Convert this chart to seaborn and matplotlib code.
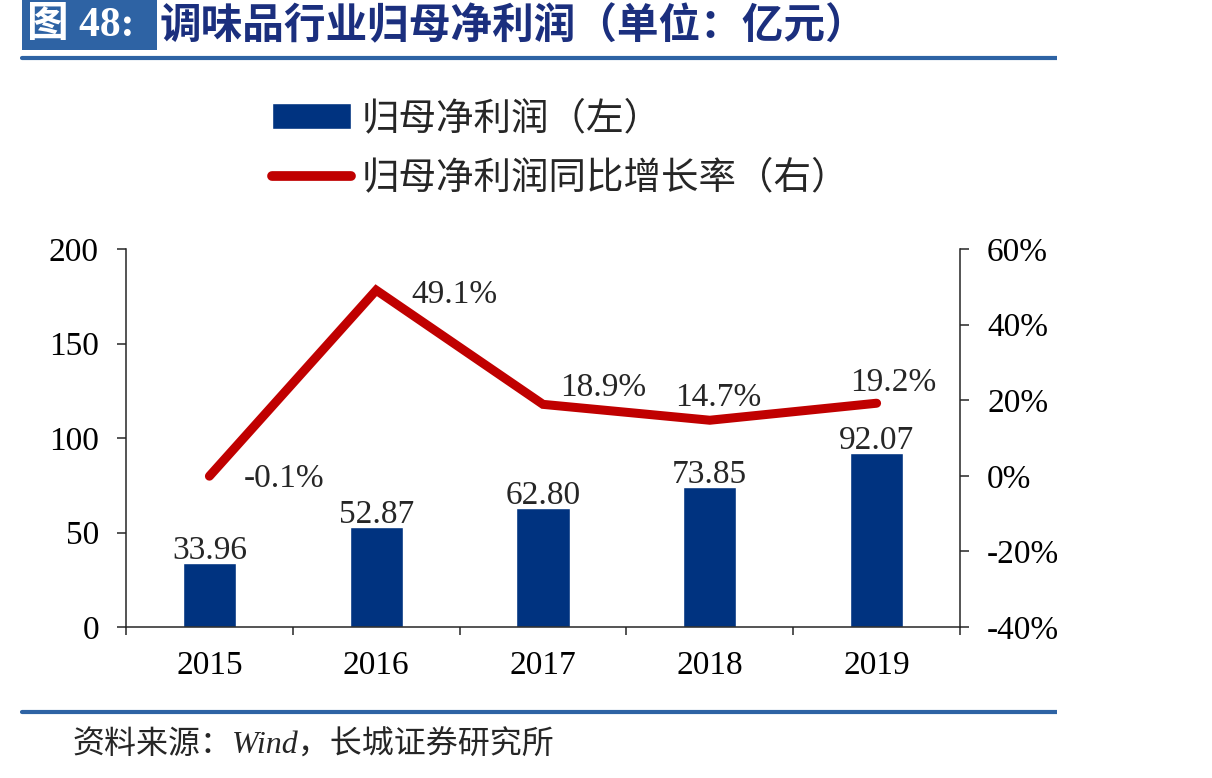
import matplotlib
matplotlib.use("Agg")
import matplotlib.pyplot as plt
from matplotlib.patches import Rectangle
from matplotlib.lines import Line2D
from matplotlib.ticker import FixedLocator, FuncFormatter
import numpy as np
import seaborn as sns

years = ["2015", "2016", "2017", "2018", "2019"]
profit = [33.96, 52.87, 62.80, 73.85, 92.07]
growth = [-0.1, 49.1, 18.9, 14.7, 19.2]
profit_labels = ["33.96", "52.87", "62.80", "73.85", "92.07"]
growth_labels = ["-0.1%", "49.1%", "18.9%", "14.7%", "19.2%"]

title_tag = "图 48:"
title_text = "调味品行业归母净利润（单位：亿元）"
bar_name = "归母净利润（左）"
line_name = "归母净利润同比增长率（右）"
source_text = "资料来源：Wind，长城证券研究所"

BAR_COLOR = "#003380"
LINE_COLOR = "#C00000"
RULE_COLOR = "#2E63A4"
TITLE_COLOR = "#1B2F7E"

sns.set_style("ticks")
plt.rcParams["font.family"] = ["Liberation Serif", "Noto Sans CJK SC", "DejaVu Sans"]
plt.rcParams["axes.linewidth"] = 1.1

W, H = 1212, 778
fig = plt.figure(figsize=(W / 100, H / 100), dpi=100)
ax = fig.add_axes([126 / W, 1 - 627 / H, (960 - 126) / W, (627 - 249) / H])
ax2 = ax.twinx()

pos = np.arange(len(years))
sns.barplot(x=years, y=profit, color=BAR_COLOR, width=0.32, saturation=1,
            label=bar_name, ax=ax, zorder=2)
sns.lineplot(x=pos, y=growth, color=LINE_COLOR, linewidth=6.5, label=line_name,
             ax=ax2, solid_capstyle="round", solid_joinstyle="miter", zorder=3)

ax.set_xlim(-0.5, len(years) - 0.5)
ax.set_ylim(0, 200)
ax.set_yticks([0, 50, 100, 150, 200])
ax2.set_ylim(-40, 60)
ax2.set_yticks([-40, -20, 0, 20, 40, 60])
ax2.yaxis.set_major_formatter(FuncFormatter(lambda v, p: "{:.0f}%".format(v)))

ax.set_xlabel("")
ax.set_ylabel("")
ax2.set_ylabel("")
ax.xaxis.set_minor_locator(FixedLocator(np.arange(-0.5, len(years), 1.0)))
ax.tick_params(axis="x", which="major", length=0, pad=17, labelsize=24)
ax.tick_params(axis="x", which="minor", length=6, width=1.1, direction="out")
ax.tick_params(axis="y", length=6.5, width=1.1, direction="out", labelsize=24, pad=13)
ax2.tick_params(axis="y", length=6.5, width=1.1, direction="out", labelsize=24, pad=13)
for a in (ax, ax2):
    a.spines["top"].set_visible(False)
    for lab in a.get_xticklabels() + a.get_yticklabels():
        lab.set_color("black")
ax.spines["right"].set_visible(False)
ax2.spines["left"].set_visible(False)
ax2.spines["bottom"].set_visible(False)

# value labels
for i, lab in enumerate(profit_labels):
    ax.annotate(lab, (pos[i], profit[i]), xytext=(0, -2), textcoords="offset points",
                ha="center", va="bottom", fontsize=24)
growth_offsets = [(54, -2), (56, -3), (43, 12), (6, 16), (12, 15)]
for i, lab in enumerate(growth_labels):
    dx, dy = growth_offsets[i]
    ax2.annotate(lab, (pos[i], growth[i]), xytext=(dx, dy), textcoords="offset points",
                 ha="center", va="center", fontsize=24)

# legend
h1, l1 = ax.get_legend_handles_labels()
h2, l2 = ax2.get_legend_handles_labels()
for a in (ax, ax2):
    if a.get_legend() is not None:
        a.get_legend().remove()
leg = fig.legend(h1 + h2, l1 + l2, loc="upper left",
                 bbox_to_anchor=(272 / W, 1 - 99 / H), frameon=False,
                 prop={"family": ["Noto Sans CJK SC"], "size": 27, "weight": "light"},
                 handlelength=2.1, handletextpad=0.3, labelspacing=0.55,
                 borderpad=0, borderaxespad=0)
for lh in leg.get_lines():
    lh.set_linewidth(7)
    lh.set_solid_capstyle("round")

# title block
fig.patches.append(Rectangle((22 / W, 1 - 50 / H), 135 / W, 50 / H, transform=fig.transFigure,
                             facecolor=RULE_COLOR, edgecolor="none"))
fig.text(27 / W, 1 - 26 / H, title_tag, color="white", fontsize=30, fontweight="bold",
         va="center", ha="left")
fig.text(160 / W, 1 - 26 / H, title_text, color=TITLE_COLOR, fontsize=30, fontweight="bold",
         va="center", ha="left", family=["Noto Sans CJK SC"])
fig.add_artist(Line2D([22 / W, 1057 / W], [1 - 58 / H, 1 - 58 / H], transform=fig.transFigure,
                      color=RULE_COLOR, linewidth=3))
fig.add_artist(Line2D([22 / W, 1057 / W], [1 - 712 / H, 1 - 712 / H], transform=fig.transFigure,
                      color=RULE_COLOR, linewidth=3))
fig.text(72 / W, 1 - 746 / H, source_text, fontsize=23, style="italic", va="center", ha="left",
         family=["Liberation Serif", "Noto Sans CJK SC"], fontweight="light")

# page edge crop on the right
fig.patches.append(Rectangle((1057 / W, 0), 1 - 1057 / W, 1, transform=fig.transFigure,
                             facecolor="white", edgecolor="none", zorder=10))

fig.savefig("out.png", dpi=100)
